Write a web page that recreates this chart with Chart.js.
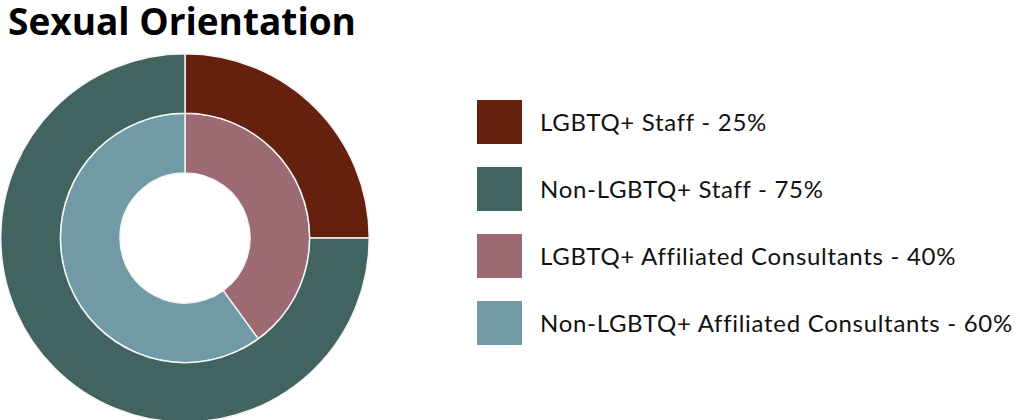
<!DOCTYPE html>
<html>
<head>
<meta charset="utf-8">
<script src="https://cdn.jsdelivr.net/npm/chart.js@4"></script>
<style>
    html, body {
        margin: 0;
        padding: 0;
        width: 1020px;
        height: 420px;
        overflow: hidden;
        background: #fff;
    }
    #title {
        position: absolute;
        left: 8px;
        top: -2px;
        margin: 0;
        font-family: "Open Sans", sans-serif;
        font-weight: 700;
        font-size: 37px;
        line-height: 46px;
        color: #000;
    }
    #chartWrap {
        position: absolute;
        left: 0px;
        top: 53px;
        width: 370px;
        height: 370px;
    }
    #legend {
        position: absolute;
        left: 477px;
        top: 100px;
        font-family: Lato, sans-serif;
        font-size: 24px;
        letter-spacing: 0.7px;
        color: #111;
    }
    .legend-item {
        display: flex;
        align-items: center;
        height: 44px;
        margin-bottom: 23px;
        white-space: nowrap;
    }
    .legend-box {
        width: 45px;
        height: 44px;
        margin-right: 18px;
        flex: none;
    }
    .legend-item span {
        position: relative;
        top: -1px;
    }
</style>
</head>
<body>
<h1 id="title">Sexual Orientation</h1>
<div id="chartWrap"><canvas id="orientationChart"></canvas></div>
<div id="legend"></div>

<script>
// Data
const staffLabels = ['LGBTQ+ Staff', 'Non-LGBTQ+ Staff'];
const staffValues = [25, 75];
const staffColors = ['#65200e', '#416461'];

const consultantLabels = ['LGBTQ+ Affiliated Consultants', 'Non-LGBTQ+ Affiliated Consultants'];
const consultantValues = [40, 60];
const consultantColors = ['#9b6a72', '#6f9aa6'];

function buildLegend() {
    const legend = document.getElementById('legend');
    const items = [];
    staffLabels.forEach((label, i) => items.push({ text: label + ' - ' + staffValues[i] + '%', color: staffColors[i] }));
    consultantLabels.forEach((label, i) => items.push({ text: label + ' - ' + consultantValues[i] + '%', color: consultantColors[i] }));

    items.forEach(item => {
        const row = document.createElement('div');
        row.className = 'legend-item';
        const box = document.createElement('div');
        box.className = 'legend-box';
        box.style.background = item.color;
        const txt = document.createElement('span');
        txt.textContent = item.text;
        row.appendChild(box);
        row.appendChild(txt);
        legend.appendChild(row);
    });
}

function createOrientationChart() {
    const ctx = document.getElementById('orientationChart');
    if (!ctx) return;

    new Chart(ctx, {
        type: 'doughnut',
        data: {
            labels: staffLabels,
            datasets: [
                {
                    label: 'Staff',
                    data: staffValues,
                    backgroundColor: staffColors,
                    borderColor: '#f4f4f4',
                    borderWidth: 1.5,
                    hoverOffset: 0
                },
                {
                    label: 'Consultants',
                    data: consultantValues,
                    backgroundColor: consultantColors,
                    borderColor: '#f4f4f4',
                    borderWidth: 1.5,
                    hoverOffset: 0
                }
            ]
        },
        options: {
            responsive: true,
            maintainAspectRatio: false,
            animation: false,
            cutout: '35.3%',
            layout: {
                padding: 0
            },
            plugins: {
                legend: {
                    display: false
                },
                tooltip: {
                    enabled: false
                }
            }
        }
    });
}

buildLegend();
createOrientationChart();
</script>
</body>
</html>
